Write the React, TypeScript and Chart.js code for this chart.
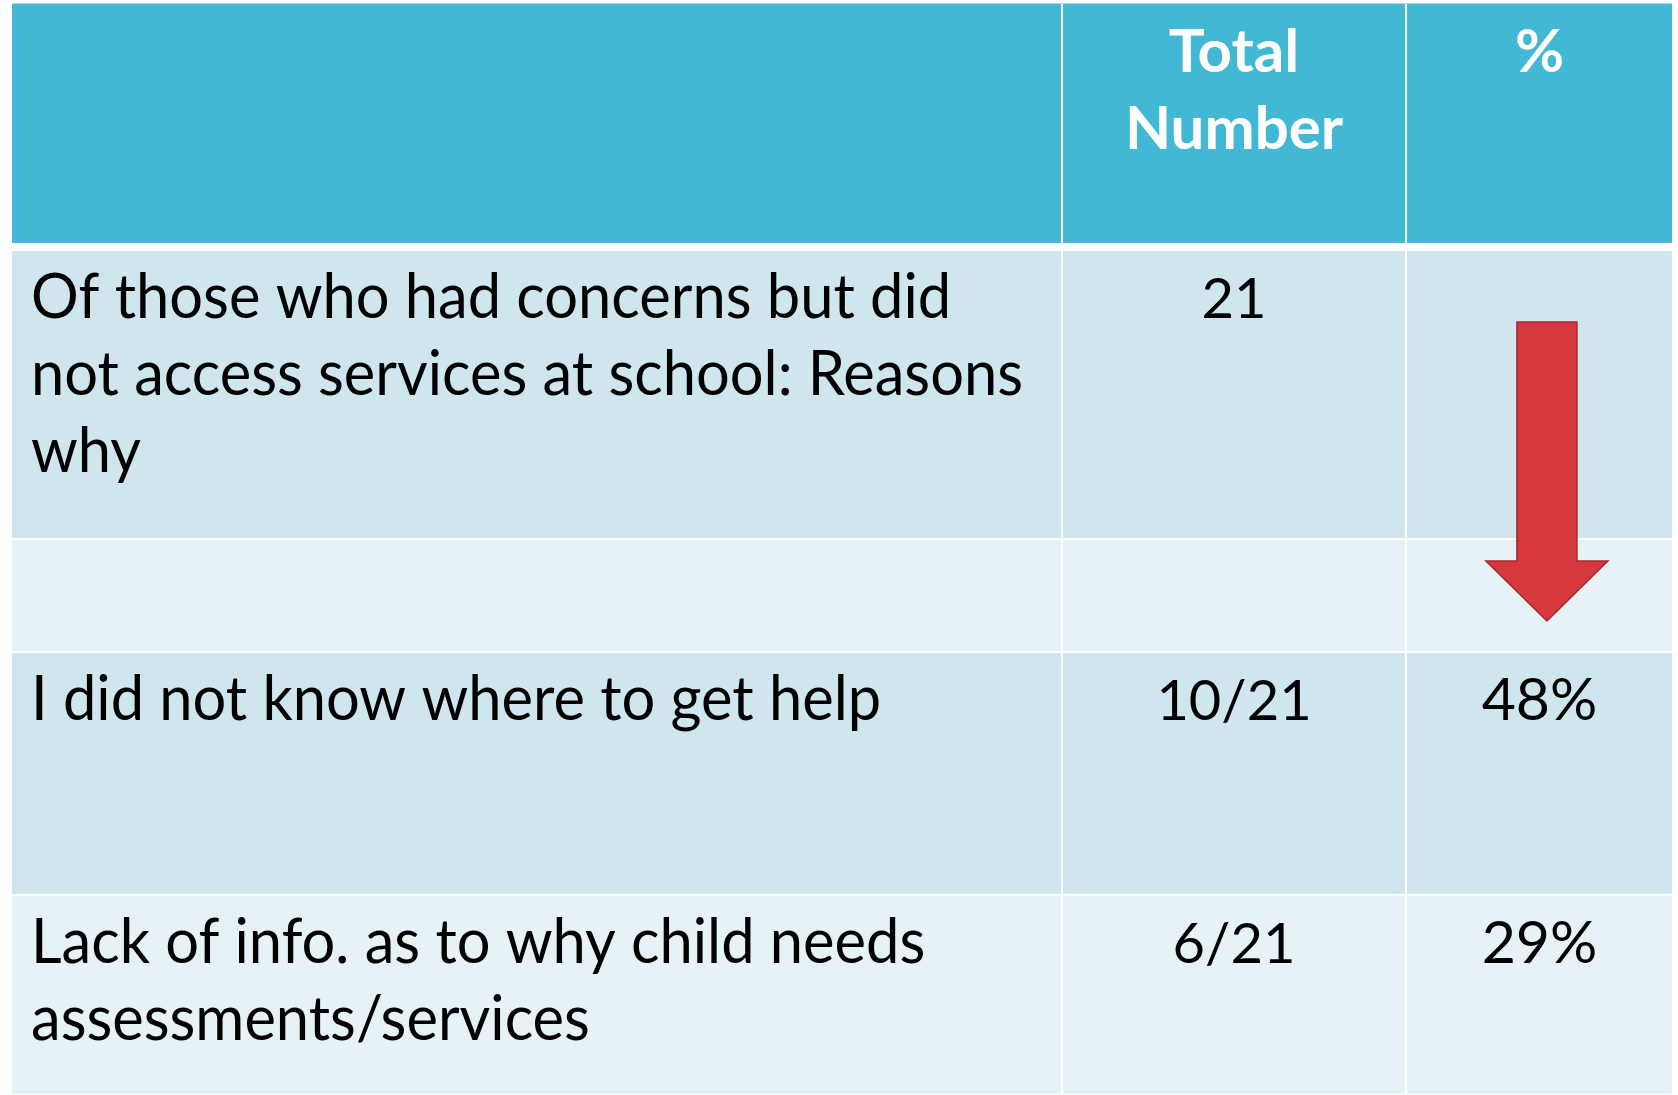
import React, { useEffect, useRef } from "react";
import { Chart, registerables } from "chart.js";

Chart.register(...registerables);

// ---- Table content ----
const columnHeaders = [[""], ["Total", "Number"], ["%"]];
const rowLabels = [
  ["Of those who had concerns but did", "not access services at school: Reasons", "why"],
  [],
  ["I did not know where to get help"],
  ["Lack of info. as to why child needs", "assessments/services"],
];
const totalNumbers = ["21", "", "10/21", "6/21"];
const percentages = ["", "", "48%", "29%"];
const arrowFromRow = 0; // arrow spans from this row...
const arrowToRow = 1; // ...into this row, in the % column

// ---- Styles (sizes in px of the layout) ----
const colWidths = [1049, 342, 265];
const colSep = 2;
const headerHeight = 239;
const headerSep = 8;
const rowHeights = [287, 111, 241, 198];
const rowSep = 2;
const HEADER_BG = "#42b8d4";
const ROW_BG = ["#cfe6ee", "#e7f2f7"];
const FONT = 'Lato, "Open Sans", sans-serif';

const tablePlugin = {
  id: "tableDraw",
  afterDraw(chart: any) {
    const { ctx, chartArea: a } = chart;
    const W = a.right - a.left;
    const H = a.bottom - a.top;
    const totalW = colWidths.reduce((s, v) => s + v, 0) + colSep * (colWidths.length - 1);
    const totalH =
      headerHeight + headerSep + rowHeights.reduce((s, v) => s + v, 0) + rowSep * (rowHeights.length - 1);
    const sx = W / totalW;
    const sy = H / totalH;

    const colX: number[] = [];
    let x = a.left;
    colWidths.forEach((w) => {
      colX.push(x);
      x += (w + colSep) * sx;
    });
    const cw = colWidths.map((w) => w * sx);

    ctx.save();
    ctx.fillStyle = "#ffffff";
    ctx.fillRect(0, 0, chart.width, chart.height);

    // header
    const hTop = a.top;
    const hH = headerHeight * sy;
    ctx.fillStyle = "#a9dbe7";
    ctx.fillRect(a.left, hTop - 1, W, 1);
    colWidths.forEach((_, c) => {
      ctx.fillStyle = HEADER_BG;
      ctx.fillRect(colX[c], hTop, cw[c], hH);
    });
    ctx.fillStyle = "#ffffff";
    ctx.font = `bold 60px ${FONT}`;
    ctx.textAlign = "center";
    ctx.textBaseline = "alphabetic";
    columnHeaders.forEach((lines, c) => {
      lines.forEach((t, i) => {
        if (!t) return;
        ctx.fillText(t, colX[c] + cw[c] / 2, hTop + 68 * sy + i * 77 * sy);
      });
    });

    // body rows
    const rowTop: number[] = [];
    let y = hTop + (headerHeight + headerSep) * sy;
    rowHeights.forEach((h) => {
      rowTop.push(y);
      y += (h + rowSep) * sy;
    });

    ctx.font = `61px ${FONT}`;
    // horizontal fit factor from the widest label line
    let widest = 0;
    rowLabels.forEach((ls) => ls.forEach((t) => (widest = Math.max(widest, ctx.measureText(t).width))));
    const fit = Math.min(1, (cw[0] * 0.9457) / widest);

    rowHeights.forEach((h, r) => {
      const top = rowTop[r];
      const rh = h * sy;
      colWidths.forEach((_, c) => {
        ctx.fillStyle = ROW_BG[r % 2];
        ctx.fillRect(colX[c], top, cw[c], rh);
      });
      ctx.fillStyle = "#000000";
      const base = top + 67 * sy;
      ctx.font = `61px ${FONT}`;
      ctx.textAlign = "left";
      rowLabels[r].forEach((t, i) => {
        const w = ctx.measureText(t).width;
        ctx.fillText(t, colX[0] + 19 * sx, base + i * 77 * sy, w * fit);
      });
      ctx.textAlign = "center";
      ctx.font = `56px ${FONT}`;
      if (totalNumbers[r]) ctx.fillText(totalNumbers[r], colX[1] + cw[1] / 2, base);
      ctx.font = `59px ${FONT}`;
      if (percentages[r]) ctx.fillText(percentages[r], colX[2] + cw[2] / 2, base);
    });

    // red down arrow in % column
    const cx = colX[2] + cw[2] * 0.528;
    const shaftHalf = 30 * sx;
    const headHalf = 61 * sx;
    const aTop = rowTop[arrowFromRow] + 71 * sy;
    const tip = rowTop[arrowToRow] + 81 * sy;
    const headBase = tip - 60 * sy;
    ctx.beginPath();
    ctx.moveTo(cx - shaftHalf, aTop);
    ctx.lineTo(cx + shaftHalf, aTop);
    ctx.lineTo(cx + shaftHalf, headBase);
    ctx.lineTo(cx + headHalf, headBase);
    ctx.lineTo(cx, tip);
    ctx.lineTo(cx - headHalf, headBase);
    ctx.lineTo(cx - shaftHalf, headBase);
    ctx.closePath();
    ctx.fillStyle = "#d5383d";
    ctx.fill();
    ctx.strokeStyle = "#a8282d";
    ctx.lineWidth = 1.5;
    ctx.stroke();
    ctx.restore();
  },
};

export default function App() {
  const ref = useRef<HTMLCanvasElement | null>(null);
  useEffect(() => {
    if (!ref.current) return;
    const chart = new Chart(ref.current, {
      type: "bar",
      data: { labels: [], datasets: [] },
      options: {
        responsive: false,
        animation: false,
        devicePixelRatio: 1,
        layout: { padding: { left: 12, top: 4, right: 6, bottom: 1 } },
        plugins: { legend: { display: false }, tooltip: { enabled: false }, title: { display: false } },
        scales: { x: { display: false }, y: { display: false } },
      },
      plugins: [tablePlugin],
    });
    return () => chart.destroy();
  }, []);
  return (
    <div style={{ position: "absolute", left: 0, top: 0, width: 1678, height: 1095, background: "#fff" }}>
      <canvas ref={ref} width={1678} height={1095} style={{ display: "block" }} />
    </div>
  );
}
